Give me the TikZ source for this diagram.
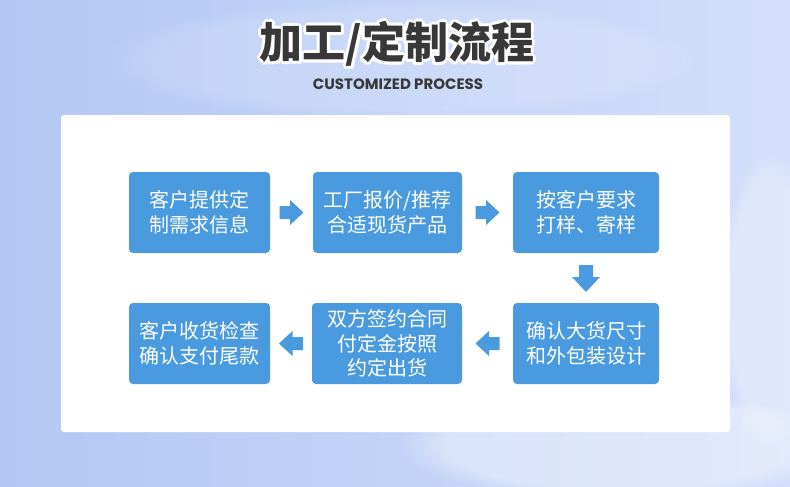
\documentclass[tikz,border=0pt]{standalone}
\usepackage{fontspec}
\usetikzlibrary{calc,fadings}
\newfontfamily\cjk{Noto Sans CJK SC}
\newfontfamily\latinsub{Poppins}
\definecolor{boxblue}{HTML}{4A9ADF}
\definecolor{titlegray}{HTML}{383838}
\definecolor{bgA}{HTML}{B2C7F4}
\definecolor{bgB}{HTML}{D3DFFA}
\tikzset{
  stepbox/.style={fill=boxblue, rounded corners=4pt, inner sep=0pt, align=center,
    text=white, minimum height=81pt, font=\cjk\fontsize{20}{24.5}\selectfont},
  blk/.pic={\fill[boxblue] (-12,-6.5) -- (-1.5,-6.5) -- (-1.5,-12.5) -- (12,0) -- (-1.5,12.5) -- (-1.5,6.5) -- (-12,6.5) -- cycle;},
  bigblk/.pic={\fill[boxblue] (-13,-7) -- (-1,-7) -- (-1,-14) -- (14,0) -- (-1,14) -- (-1,7) -- (-13,7) -- cycle;},
  titlefont/.style={font=\cjk\bfseries\fontsize{43}{47}\selectfont},
}
\begin{document}
\begin{tikzpicture}[x=1pt,y=-1pt]
\useasboundingbox (0,0) rectangle (790,487);
% background
\shade[left color=bgA, right color=bgB] (0,0) rectangle (790,487);
\fill[white, opacity=0.35, path fading=circle with fuzzy edge 20 percent] (620,445) ellipse (220 and 55);
\fill[white, opacity=0.3, path fading=circle with fuzzy edge 20 percent] (770,300) ellipse (50 and 150);
\fill[white, opacity=0.15, path fading=circle with fuzzy edge 20 percent] (400,60) ellipse (300 and 60);
% panel
\fill[white, rounded corners=3pt] (61,115) rectangle (730,432);
% title
\coordinate (tpos) at (397,44);
\foreach \a in {0,30,...,330} {\node[titlefont, text=white] at ($(tpos)+(\a:3pt)$) {加工/定制流程};}
\node[titlefont, text=titlegray] (title) at (tpos) {加工/定制流程};
\node[font=\latinsub\bfseries\fontsize{15}{18}\selectfont, text=titlegray] (sub) at (398,84) {CUSTOMIZED PROCESS};
% boxes
\node[stepbox, minimum width=141pt] (b1) at (199.5,212.5) {客户提供定\\制需求信息};
\node[stepbox, minimum width=149pt] (b2) at (387.5,212.5) {工厂报价/推荐\\合适现货产品};
\node[stepbox, minimum width=146pt] (b3) at (586,212.5) {按客户要求\\打样、寄样};
\node[stepbox, minimum width=146pt] (b6) at (586,343.5) {确认大货尺寸\\和外包装设计};
\node[stepbox, minimum width=150pt] (b5) at (387,343.5) {双方签约合同\\付定金按照\\约定出货};
\node[stepbox, minimum width=141pt] (b4) at (199.5,343.5) {客户收货检查\\确认支付尾款};
% block arrows
\pic at ($(b1.east)!0.5!(b2.west)$) {blk};
\pic at ($(b2.east)!0.5!(b3.west)$) {blk};
\pic[rotate=-90] at ($(b3.south)!0.5!(b6.north)$) {bigblk};
\pic[rotate=180] at ($(b6.west)!0.5!(b5.east)$) {blk};
\pic[rotate=180] at ($(b5.west)!0.5!(b4.east)$) {blk};
\end{tikzpicture}
\end{document}
